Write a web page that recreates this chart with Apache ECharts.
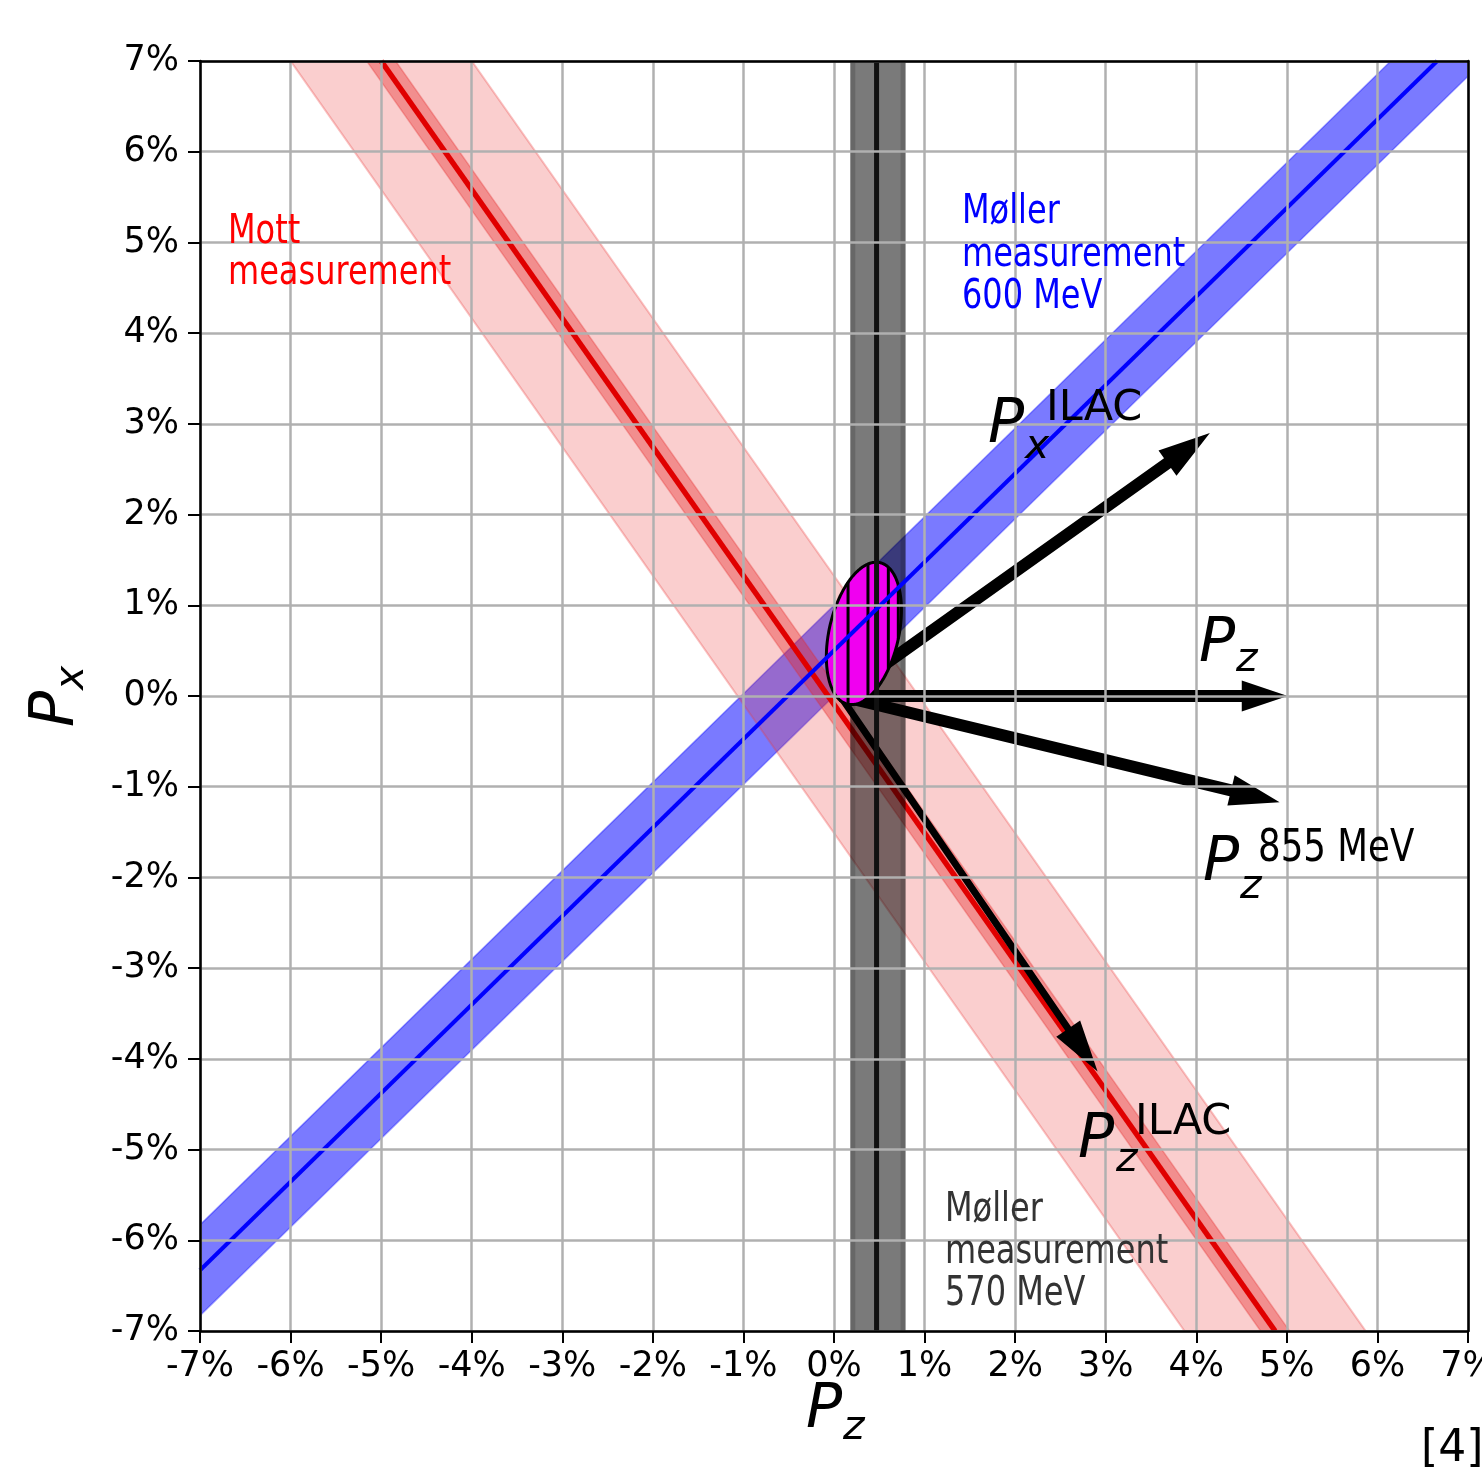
<!DOCTYPE html>
<html><head><meta charset="utf-8">
<script src="https://cdn.jsdelivr.net/npm/echarts@6/dist/echarts.min.js"></script>
<style>html,body{margin:0;padding:0;background:#fff}#c{width:1482px;height:1475px}</style>
</head><body><div id="c"></div>
<script>
// ---- data (values in %) ----
const axisMin = -7, axisMax = 7, axisStep = 1;
// Mott measurement: centre line end points [Pz, Px]
const mottLine = [[-5.00, 7.00], [4.87, -7.00]];
const mottBandWide = 1.00;    // half-width of the wide band, in Pz
const mottBandNarrow = 0.16;  // half-width of the narrow band, in Pz
// Moller 600 MeV: centre line end points [Pz, Px]
const moller600Line = [[-7.00, -6.33], [6.66, 7.00]];
const moller600Band = 0.50;   // half-width, in Px
// Moller 570 MeV: vertical line and band in Pz
const moller570Center = 0.47;
const moller570Band = [0.18, 0.79];
// combined result ellipse
const ellipseCenter = [0.33, 0.69];
const ellipseSemi = [0.384, 0.80];   // [along Pz, along Px]
const ellipseTiltDeg = 12.8;
const hatchPz = [0.155, 0.375, 0.60, 0.71];
// arrows [Pz, Px]
const arrowNames = ['PzILACvec', 'Pz', 'Pz855', 'PxILAC'];
const arrowFrom = [[0.07, 0.00], [0.07, 0.00], [0.07, 0.00], [0.07, 0.00]];
const arrowTo = [[2.91, -4.14], [5.01, 0.00], [4.92, -1.17], [4.15, 2.90]];

// ---- styles ----
const arrowStyle = [
  {w: 7, L: 52, H: 29},
  {w: 12, L: 46, H: 31},
  {w: 12, L: 50, H: 31},
  {w: 12, L: 52, H: 31}
];
const FONT = '"DejaVu Sans"';

function mottPz(px) {
  const [a, b] = mottLine;
  return a[0] + (b[0] - a[0]) * (px - a[1]) / (b[1] - a[1]);
}
function mollerPx(pz) {
  const [a, b] = moller600Line;
  return a[1] + (b[1] - a[1]) * (pz - a[0]) / (b[0] - a[0]);
}

function polySeries(z, getPts, style) {
  return {
    type: 'custom', z: z, clip: true, silent: true, animation: false,
    data: [[0, 0]],
    renderItem: function (params, api) {
      const pts = getPts().map(p => api.coord(p));
      return {type: 'polygon', shape: {points: pts}, style: style};
    }
  };
}

function mottBand(h) {
  return () => [
    [mottPz(axisMax) - h, axisMax], [mottPz(axisMax) + h, axisMax],
    [mottPz(axisMin) + h, axisMin], [mottPz(axisMin) - h, axisMin]
  ];
}
function mollerBand() {
  const z0 = axisMin - 0.3, z1 = axisMax + 0.3, h = moller600Band;
  return [[z0, mollerPx(z0) - h], [z1, mollerPx(z1) - h], [z1, mollerPx(z1) + h], [z0, mollerPx(z0) + h]];
}

function ellipsePoints(api) {
  const c = api.coord(ellipseCenter);
  const s = api.size(ellipseSemi);
  const u = s[0], v = s[1];
  const th = ellipseTiltDeg * Math.PI / 180;
  const pts = [];
  for (let i = 0; i < 360; i++) {
    const t = i * Math.PI / 180;
    const a = u * Math.cos(t), b = v * Math.sin(t);
    pts.push([c[0] + a * Math.cos(th) + b * Math.sin(th), c[1] + a * Math.sin(th) - b * Math.cos(th)]);
  }
  return pts;
}

const series = [
  polySeries(1, mollerBand, {fill: 'rgba(0,0,255,0.52)', stroke: 'rgba(0,0,255,0.35)', lineWidth: 1.5}),
  polySeries(2, mottBand(mottBandWide), {fill: 'rgba(235,60,60,0.25)', stroke: 'rgba(235,60,60,0.3)', lineWidth: 2}),
  polySeries(3, mottBand(mottBandNarrow), {fill: 'rgba(230,40,40,0.38)', stroke: 'rgba(230,40,40,0.3)', lineWidth: 1.5}),
  {type: 'line', z: 4, data: mottLine, showSymbol: false, silent: true, animation: false,
   lineStyle: {color: '#e00000', width: 5.5}},
  {
    type: 'custom', z: 5, clip: true, silent: true, animation: false, data: [[0, 0]],
    renderItem: function (params, api) {
      const p0 = api.coord([moller570Band[0], axisMax]);
      const p1 = api.coord([moller570Band[1], axisMin]);
      return {type: 'group', children: [
        {type: 'rect', shape: {x: p0[0], y: p0[1], width: p1[0] - p0[0], height: p1[1] - p0[1]},
         style: {fill: 'rgba(0,0,0,0.52)'}},
        {type: 'rect', shape: {x: p0[0] + 2.5, y: p0[1] - 5, width: p1[0] - p0[0] - 5, height: p1[1] - p0[1] + 10},
         style: {fill: 'none', stroke: 'rgba(0,0,0,0.15)', lineWidth: 5}}
      ]};
    }
  },
  {
    type: 'custom', z: 7, clip: true, silent: true, animation: false,
    data: arrowTo.map((t, i) => [t[0], t[1], i]),
    renderItem: function (params, api) {
      const i = api.value(2);
      const S = api.coord(arrowFrom[i]);
      const T = api.coord(arrowTo[i]);
      const st = arrowStyle[i];
      const dx = T[0] - S[0], dy = T[1] - S[1], len = Math.hypot(dx, dy);
      const d = [dx / len, dy / len], n = [-d[1], d[0]];
      const B = [T[0] - d[0] * st.L, T[1] - d[1] * st.L];
      const P = (p, k) => [p[0] + n[0] * k, p[1] + n[1] * k];
      return {type: 'polygon', shape: {points: [
        P(S, st.w / 2), P(B, st.w / 2), P(B, st.H / 2), T, P(B, -st.H / 2), P(B, -st.w / 2), P(S, -st.w / 2)
      ]}, style: {fill: '#000'}};
    }
  },
  {
    type: 'custom', z: 8, clip: true, silent: true, animation: false, data: [[0, 0]],
    renderItem: function (params, api) {
      const pts = ellipsePoints(api);
      const children = [{type: 'polygon', shape: {points: pts}, style: {fill: '#f000f0'}}];
      hatchPz.forEach(pz => {
        const X = api.coord([pz, 0])[0];
        const ys = [];
        for (let i = 0; i < pts.length; i++) {
          const a = pts[i], b = pts[(i + 1) % pts.length];
          if ((a[0] - X) * (b[0] - X) <= 0 && a[0] !== b[0]) {
            ys.push(a[1] + (b[1] - a[1]) * (X - a[0]) / (b[0] - a[0]));
          }
        }
        if (ys.length >= 2) {
          children.push({type: 'line', shape: {x1: X, y1: Math.min(...ys), x2: X, y2: Math.max(...ys)},
            style: {stroke: '#000', lineWidth: 3}});
        }
      });
      children.push({type: 'polygon', shape: {points: pts}, style: {fill: 'none', stroke: '#000', lineWidth: 3}});
      return {type: 'group', children: children};
    }
  },
  {type: 'line', z: 9, data: [[moller570Center, axisMin], [moller570Center, axisMax]], showSymbol: false,
   silent: true, animation: false, lineStyle: {color: '#111', width: 5}},
  {type: 'line', z: 10, data: moller600Line, showSymbol: false, silent: true, animation: false,
   lineStyle: {color: '#0000ff', width: 4}}
];

// ---- text helpers ----
function txt(text, x, baseline, size, o) {
  o = o || {};
  return {
    type: 'text', z: 30, silent: true,
    x: x, y: baseline - 0.346 * size,
    scaleX: o.sx || 1,
    style: {text: text, font: (o.it ? 'italic ' : '') + size + 'px ' + FONT,
      fill: o.c || '#000', align: 'left', verticalAlign: 'middle'}
  };
}
function vtxt(text, baselineX, startY, size, o) {
  o = o || {};
  return {
    type: 'text', z: 30, silent: true,
    x: baselineX - 0.346 * size, y: startY, rotation: Math.PI / 2,
    style: {text: text, font: (o.it ? 'italic ' : '') + size + 'px ' + FONT,
      fill: o.c || '#000', align: 'left', verticalAlign: 'middle'}
  };
}

const SX = 0.8;
const graphics = [
  txt('Mott', 228, 246, 40, {c: '#ff0000', sx: SX}),
  txt('measurement', 228, 287, 40, {c: '#ff0000', sx: SX}),
  txt('Møller', 962, 226, 40, {c: '#0000ff', sx: SX}),
  txt('measurement', 962, 269, 40, {c: '#0000ff', sx: SX}),
  txt('600 MeV', 962, 311, 40, {c: '#0000ff', sx: SX}),
  txt('Møller', 945, 1224, 40, {c: '#333333', sx: SX}),
  txt('measurement', 945, 1266, 40, {c: '#333333', sx: SX}),
  txt('570 MeV', 945, 1308, 40, {c: '#333333', sx: SX}),
  // P_x^ILAC
  txt('P', 988, 447, 60, {it: true}),
  txt('x', 1025, 462, 41, {it: true}),
  txt('ILAC', 1046, 424, 43),
  // P_z
  txt('P', 1199, 666, 60, {it: true}),
  txt('z', 1236, 675, 41, {it: true}),
  // P_z^855 MeV
  txt('P', 1203, 885, 60, {it: true}),
  txt('z', 1240, 902, 41, {it: true}),
  txt('855 MeV', 1258, 865, 44, {sx: 0.81}),
  // P_z^ILAC
  txt('P', 1078, 1162, 60, {it: true}),
  txt('z', 1116, 1175, 41, {it: true}),
  txt('ILAC', 1135, 1138, 43),
  // axis titles
  txt('P', 806, 1432, 60, {it: true}),
  txt('z', 843, 1443, 41, {it: true}),
  vtxt('P', 78, 727, 60, {it: true}),
  vtxt('x', 87, 690, 41, {it: true}),
  txt('[4]', 1421, 1465, 44)
];

const chart = echarts.init(document.getElementById('c'), null, {renderer: 'canvas'});
const axisCommon = {
  type: 'value', min: axisMin, max: axisMax, interval: axisStep, z: 20,
  axisLine: {show: true, onZero: false, lineStyle: {color: '#000', width: 2.5}},
  axisTick: {show: true, inside: false, length: 12, lineStyle: {color: '#000', width: 2}},
  axisLabel: {formatter: '{value}%', fontFamily: FONT, fontSize: 35, color: '#000',
    showMinLabel: true, showMaxLabel: true},
  splitLine: {show: true, lineStyle: {color: '#b0b0b0', width: 2.5}}
};
const frameAxis = {
  type: 'value', min: axisMin, max: axisMax, interval: axisStep, z: 20,
  axisLine: {show: true, onZero: false, lineStyle: {color: '#000', width: 2.5}},
  axisTick: {show: false}, axisLabel: {show: false}, splitLine: {show: false}
};
chart.setOption({
  animation: false,
  backgroundColor: '#ffffff',
  grid: {left: 200, right: 14, top: 61, bottom: 144, containLabel: false, outerBoundsMode: 'none'},
  xAxis: [
    Object.assign({}, axisCommon, {position: 'bottom', axisLabel: Object.assign({}, axisCommon.axisLabel, {margin: 18})}),
    Object.assign({}, frameAxis, {position: 'top'})
  ],
  yAxis: [
    Object.assign({}, axisCommon, {position: 'left', axisLabel: Object.assign({}, axisCommon.axisLabel, {margin: 21})}),
    Object.assign({}, frameAxis, {position: 'right'})
  ],
  series: series,
  graphic: graphics
});
</script>
</body></html>
